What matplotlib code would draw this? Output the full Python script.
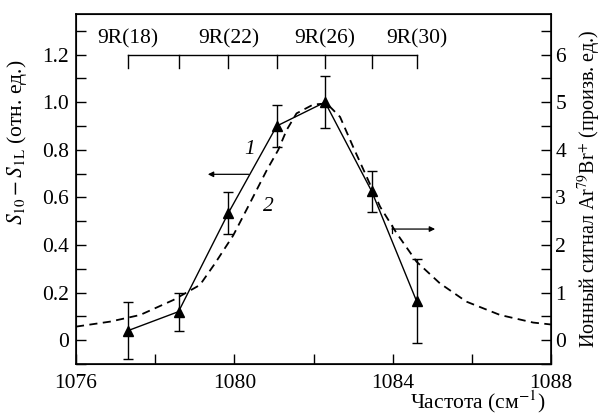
import numpy as np
import matplotlib
matplotlib.use("Agg")
import matplotlib.pyplot as plt

plt.rcParams['font.family'] = 'serif'
plt.rcParams['font.serif'] = ['Liberation Serif', 'DejaVu Serif']
plt.rcParams['mathtext.fontset'] = 'stix'

# measured points (curve 1), left axis
freq = [1077.31, 1078.59, 1079.85, 1081.07, 1082.29, 1083.47, 1084.60]
signal = [0.04, 0.12, 0.535, 0.90, 1.00, 0.625, 0.165]
err = [0.12, 0.08, 0.087, 0.087, 0.11, 0.085, 0.175]

# ion signal curve 2 (in left-axis units)
curve_x = [1076.0, 1076.86, 1077.62, 1078.46, 1079.13, 1079.50, 1079.97, 1080.39,
           1080.82, 1081.11, 1081.32, 1081.57, 1081.99, 1082.33, 1082.67, 1083.00,
           1083.34, 1083.68, 1084.10, 1084.60, 1085.19, 1085.86, 1086.71, 1087.55, 1088.0]
curve_y = [0.057, 0.078, 0.106, 0.169, 0.232, 0.32, 0.44, 0.575,
           0.715, 0.80, 0.883, 0.953, 0.99, 0.995, 0.938, 0.812,
           0.687, 0.561, 0.449, 0.33, 0.239, 0.162, 0.106, 0.074, 0.066]

# CO2 laser lines on top scale
line_names = ['9R(18)', '9R(22)', '9R(26)', '9R(30)']
line_pos = [1077.31, 1079.85, 1082.29, 1084.60]

fs = 15.5

fig = plt.figure(figsize=(6.03, 4.16), dpi=100)
ax = fig.add_axes([0.126, 0.125, 0.788, 0.841])

ax.errorbar(freq, signal, yerr=err, fmt='^-', color='black', lw=1.0,
            ms=7.5, elinewidth=1.0, capsize=3.5, capthick=1.0)
ax.plot(curve_x, curve_y, color='black', lw=1.3, ls=(0, (4.5, 3)))

# top scale with laser lines
ax.plot([freq[0], freq[-1]], [1.2, 1.2], color='black', lw=1.0)
for f in freq:
    ax.plot([f, f], [1.2, 1.142], color='black', lw=1.0)
for name, p in zip(line_names, line_pos):
    ax.text(p, 1.265, name, ha='center', va='center', fontsize=fs)

# arrows and curve numbers
ax.annotate('', xy=(1079.33, 0.697), xytext=(1080.36, 0.697),
            arrowprops=dict(arrowstyle='-|>', color='black', lw=0.9,
                            mutation_scale=8, shrinkA=0, shrinkB=0))
ax.annotate('', xy=(1085.07, 0.467), xytext=(1083.98, 0.467),
            arrowprops=dict(arrowstyle='-|>', color='black', lw=0.9,
                            mutation_scale=8, shrinkA=0, shrinkB=0))
ax.plot([1083.98, 1083.98], [0.45, 0.485], color='black', lw=0.9)
ax.text(1080.39, 0.80, '1', style='italic', fontsize=fs, ha='center', va='center')
ax.text(1080.85, 0.56, '2', style='italic', fontsize=fs, ha='center', va='center')

ax.set_xlim(1076, 1088)
ax.set_ylim(-0.1, 1.37)
ax.set_xticks(np.arange(1076, 1089, 4))
ax.set_xticks(np.arange(1076, 1089, 2), minor=True)
ax.set_yticks([0, 0.2, 0.4, 0.6, 0.8, 1.0, 1.2])
ax.set_yticklabels(['0', '0.2', '0.4', '0.6', '0.8', '1.0', '1.2'])
ax.set_yticks(np.arange(-0.1, 1.35, 0.1), minor=True)
ax.tick_params(which='both', direction='in', length=7, width=1.0,
               labelsize=fs, top=False)
ax.tick_params(axis='y', pad=5)
ax.tick_params(axis='x', pad=7)
for s in ax.spines.values():
    s.set_linewidth(1.2)

ax.set_ylabel(r'$S_{\mathrm{10}} - S_{\mathrm{1L}}$ (отн. ед.)', fontsize=fs)
ax.yaxis.set_label_coords(-0.099, 0.634)

ax2 = ax.twinx()
ax2.set_ylim(-0.5, 1.37 * 5)
ax2.set_yticks(range(0, 7))
ax2.set_yticks(np.arange(-0.5, 6.8, 0.5), minor=True)
ax2.tick_params(which='both', direction='in', length=7, width=1.0,
                labelsize=fs, pad=3)
ax2.set_ylabel(r'Ионный сигнал Ar$^{79}$Br$^{+}$ (произв. ед.)', fontsize=14.5)
ax2.yaxis.set_label_coords(1.053, 0.5)

fig.text(0.905, 0.003, r'Частота (см$^{-1}$)', ha='right', va='bottom', fontsize=fs)

fig.savefig('out.png', dpi=100)
